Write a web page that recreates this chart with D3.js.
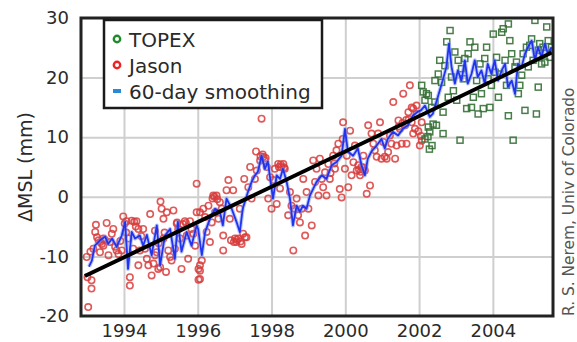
<!DOCTYPE html>
<html>
<head>
<meta charset="utf-8">
<script src="https://cdn.jsdelivr.net/npm/d3@7"></script>
<style>
  body { margin: 0; background: #fff; }
  svg { display: block; font-family: "DejaVu Sans", sans-serif; }
</style>
</head>
<body>
<svg id="chart" width="577" height="342"></svg>
<script>
// data: [year, mm]
const jasonPoints = [
  [1992.99, -10.1], [1993.03, -18.5], [1993.01, -13.5], [1993.12, -14.0], [1993.12, -15.4], [1993.22, -5.9],
  [1993.24, -4.7], [1993.17, -8.7], [1993.31, -7.3], [1993.35, -9.3], [1993.44, -7.0], [1993.44, -8.2],
  [1993.53, -4.4], [1993.58, -9.8], [1993.67, -6.2], [1993.71, -5.4], [1993.76, -8.4], [1993.80, -9.0],
  [1993.85, -9.6], [1993.94, -9.0], [1993.98, -3.3], [1994.07, -4.1], [1994.12, -7.0], [1994.16, -13.5],
  [1994.16, -14.9], [1994.21, -4.0], [1994.25, -8.7], [1994.34, -4.1], [1994.39, -5.4], [1994.39, -11.5],
  [1994.43, -9.0], [1994.52, -5.4], [1994.57, -8.7], [1994.62, -10.4], [1994.66, -11.5], [1994.71, -2.9],
  [1994.75, -13.2], [1994.80, -11.2], [1994.84, -5.7], [1994.84, -9.8], [1994.89, -9.3], [1994.93, -12.1],
  [1994.98, -11.8], [1994.99, -0.8], [1995.02, -2.0], [1995.07, -3.7], [1995.07, -7.0], [1995.14, -12.6],
  [1995.16, -2.6], [1995.20, -9.0], [1995.25, -10.1], [1995.29, -10.7], [1995.34, -2.3], [1995.38, -8.7],
  [1995.43, -4.5], [1995.47, -5.4], [1995.52, -7.0], [1995.56, -12.1], [1995.65, -4.1], [1995.70, -6.5],
  [1995.74, -10.4], [1995.79, -4.1], [1995.83, -5.4], [1995.93, -8.2], [1995.97, 2.2], [1995.97, -2.6],
  [1996.02, -12.1], [1996.02, -13.9],
  [1993.36, -7.6], [1993.40, -7.9], [1993.48, -7.2], [1993.62, -7.6], [1993.27, -6.8], [1993.09, -9.2],
  [1994.02, -4.5], [1994.28, -4.2], [1994.32, -5.0], [1994.47, -6.6], [1994.06, -6.0], [1993.90, -7.4],
  [1995.44, -4.3], [1995.60, -4.6], [1995.68, -4.4], [1995.88, -6.2], [1995.10, -6.0], [1994.94, -7.8],
  [1996.06, -2.6], [1996.06, -11.5], [1996.06, -12.4], [1996.06, -13.8], [1996.11, -10.7], [1996.15, -2.0],
  [1996.20, -3.4], [1996.24, -5.9], [1996.29, -1.5], [1996.33, -7.6], [1996.38, -4.3], [1996.42, 0.2],
  [1996.47, -2.6], [1996.51, 0.2], [1996.56, -3.7], [1996.60, -0.9], [1996.65, -2.0], [1996.69, -6.5],
  [1996.69, -9.0], [1996.78, 1.1], [1996.83, 2.8], [1996.87, -3.7], [1996.90, -7.3], [1996.96, 1.1],
  [1997.01, -7.0], [1997.05, -7.6], [1997.10, -7.0], [1997.14, -2.0], [1997.19, -7.9], [1997.23, -6.2],
  [1997.26, 3.0], [1997.28, -6.8], [1997.32, -6.8], [1997.37, 1.6], [1997.42, 5.0], [1997.46, -0.3],
  [1997.55, 3.0], [1997.58, 7.6], [1997.60, 4.4], [1997.69, 6.1], [1997.73, 13.1], [1997.78, 6.7],
  [1997.82, 6.1], [1997.87, 5.0], [1997.91, -0.3], [1997.96, 3.3], [1998.00, -2.0], [1998.05, 2.8],
  [1998.09, 4.7], [1998.14, -1.2], [1998.18, 5.5], [1998.23, 1.4], [1998.27, 5.0], [1998.32, 5.5],
  [1998.36, 4.7], [1998.45, -3.1], [1998.50, 0.8], [1998.54, -1.5], [1998.59, -9.0], [1998.63, -2.0],
  [1998.68, -0.3], [1998.72, -3.1], [1998.77, -4.3], [1998.82, -2.0], [1998.86, 3.0], [1998.91, -6.5],
  [1998.95, 0.8], [1999.00, -2.0],
  [1996.40, -0.3], [1996.45, 0.0], [1996.53, -0.4], [1996.98, -7.6], [1997.06, -7.2], [1997.16, -7.5],
  [1997.70, 6.8], [1997.76, 7.1], [1997.84, 6.5], [1998.20, 5.0], [1998.25, 5.4], [1998.34, 4.9],
  [1999.09, -4.8], [1999.13, 6.1], [1999.18, 2.5], [1999.22, 4.7], [1999.27, 0.2], [1999.31, 6.4],
  [1999.36, 3.0], [1999.40, 1.6], [1999.45, 4.1], [1999.49, 0.2], [1999.54, 5.5], [1999.58, 3.0],
  [1999.67, 6.9], [1999.72, 4.7], [1999.76, 7.8], [1999.81, 8.9], [1999.85, 1.3], [1999.90, -0.1],
  [1999.93, 9.7], [1999.94, 12.5], [1999.99, 4.7], [2000.04, 6.9], [2000.08, 1.6], [2000.13, 11.1],
  [2000.17, 3.6], [2000.22, 5.8], [2000.26, 8.6], [2000.31, 4.4], [2000.35, 5.3], [2000.40, 3.6],
  [2000.44, 5.0], [2000.49, 6.9], [2000.53, 4.4], [2000.58, 0.5], [2000.62, 12.0], [2000.67, 1.9],
  [2000.71, 10.6], [2000.76, 8.9], [2000.80, 7.8], [2000.85, 6.7], [2000.89, 10.6], [2000.94, 12.5],
  [2000.98, 6.4], [2001.03, 9.2], [2001.07, 6.7], [2001.12, 6.4], [2001.16, 7.5], [2001.21, 10.3],
  [2001.25, 8.9], [2001.30, 15.9], [2001.35, 6.4], [2001.39, 8.6], [2001.44, 12.8], [2001.48, 11.4],
  [2001.53, 8.9], [2001.57, 17.3], [2001.62, 12.0], [2001.66, 8.9], [2001.71, 14.2], [2001.75, 18.7],
  [2001.80, 12.5], [2001.84, 14.8], [2001.89, 11.4], [2001.93, 15.3], [2002.02, 8.6], [2002.07, 12.5],
  [2001.80, 15.0], [2001.84, 10.6], [2001.93, 13.9], [2001.98, 11.0], [2002.05, 10.2], [2002.07, 9.4],
  [2000.37, 4.6], [2000.42, 4.2], [2000.50, 4.9], [2001.45, 11.8], [2001.55, 12.4], [2001.65, 12.9],
  [2001.72, 13.0], [1999.60, 4.0], [1999.70, 5.6]
];

const topexPoints = [
  [2002.07, 18.7], [2002.11, 17.6], [2002.16, 16.2], [2002.20, 17.3], [2002.25, 17.0], [2002.29, 10.9],
  [2002.34, 15.0], [2002.38, 12.2], [2002.43, 15.9], [2002.43, 19.5], [2002.47, 12.0], [2002.52, 20.6],
  [2002.56, 22.9], [2002.61, 19.2], [2002.65, 14.2], [2002.65, 10.6], [2002.70, 22.0], [2002.75, 26.0],
  [2002.79, 16.7], [2002.84, 27.9], [2002.88, 20.1], [2002.93, 17.8], [2002.97, 24.3], [2003.02, 16.2],
  [2003.06, 22.9], [2003.11, 9.5], [2003.15, 21.5], [2003.20, 19.8], [2003.24, 23.2], [2003.29, 14.8],
  [2003.33, 24.0], [2003.38, 26.0], [2003.42, 15.0], [2003.47, 16.7], [2003.51, 25.1], [2003.56, 19.5],
  [2003.60, 13.9], [2003.65, 22.3], [2003.69, 17.3], [2003.74, 14.8], [2003.78, 23.2], [2003.83, 25.1],
  [2003.87, 19.8], [2003.92, 15.0], [2003.96, 18.7], [2004.01, 27.3], [2004.06, 20.9], [2004.10, 23.4],
  [2004.15, 16.7], [2004.19, 20.6], [2004.24, 27.6], [2004.28, 28.2], [2004.33, 22.9], [2004.37, 18.7],
  [2004.42, 13.6], [2004.42, 29.0], [2004.46, 26.2], [2004.51, 24.0], [2004.55, 9.5], [2004.60, 21.8],
  [2004.64, 22.6], [2004.69, 17.3], [2004.73, 18.7], [2004.78, 20.4], [2004.82, 24.0], [2004.87, 14.5],
  [2004.91, 25.1], [2004.96, 21.8], [2005.00, 25.4], [2005.05, 26.5], [2005.09, 22.9], [2005.14, 29.6],
  [2005.18, 13.9], [2005.23, 24.6], [2005.23, 18.4], [2005.27, 25.7], [2005.32, 22.3], [2005.36, 25.1],
  [2005.41, 22.6], [2005.46, 28.5], [2005.50, 26.2], [2005.55, 23.4], [2005.59, 25.1], [2002.28, 8.0],
  [2002.16, 9.7], [2002.25, 11.7], [2002.35, 8.6], [2002.24, 10.1]
];

const smoothing = [
  [1993.05, -11.7], [1993.13, -10.7], [1993.21, -8.2], [1993.35, -7.3], [1993.49, -6.7], [1993.57, -7.9],
  [1993.68, -7.0], [1993.80, -8.4], [1993.94, -6.5], [1994.03, -4.2], [1994.11, -12.1], [1994.21, -5.9],
  [1994.30, -7.0], [1994.43, -6.5], [1994.52, -8.2], [1994.62, -6.4], [1994.75, -9.8], [1994.89, -4.8],
  [1994.98, -11.5], [1995.11, -6.5], [1995.25, -5.4], [1995.38, -10.4], [1995.46, -4.2], [1995.56, -9.2],
  [1995.70, -5.9], [1995.83, -8.2], [1995.97, -4.8], [1996.01, -5.4], [1996.11, -9.8], [1996.20, -5.9],
  [1996.33, -3.7], [1996.47, -2.0], [1996.60, -2.5], [1996.68, -4.8], [1996.78, -0.3], [1996.92, -2.0],
  [1997.05, -4.2], [1997.14, -5.9], [1997.22, -2.0], [1997.36, 0.8], [1997.46, 2.5], [1997.55, 3.6],
  [1997.63, 4.2], [1997.73, 6.9], [1997.82, 4.7], [1997.90, 5.9], [1998.04, -0.3], [1998.14, 3.6],
  [1998.23, 3.0], [1998.31, 4.7], [1998.41, 2.5], [1998.50, -0.3], [1998.58, -4.8], [1998.68, -1.5],
  [1998.77, -2.5], [1998.85, -1.5], [1998.95, -2.0], [1999.04, 0.2], [1999.22, 2.5], [1999.36, 3.6],
  [1999.49, 3.0], [1999.63, 5.3], [1999.77, 5.9], [1999.90, 6.9], [1999.99, 11.4], [2000.07, 7.6],
  [2000.21, 6.9], [2000.34, 8.1], [2000.44, 5.3], [2000.53, 3.6], [2000.61, 6.4], [2000.71, 7.6],
  [2000.85, 8.6], [2000.98, 9.7], [2001.07, 8.1], [2001.15, 9.7], [2001.29, 10.9], [2001.43, 10.3],
  [2001.56, 11.4], [2001.70, 12.0], [2001.83, 13.6], [2001.97, 14.3], [2002.05, 14.5], [2002.16, 15.3],
  [2002.29, 13.4], [2002.37, 13.9], [2002.51, 16.8], [2002.64, 19.5], [2002.74, 21.8], [2002.81, 25.7],
  [2002.88, 21.8], [2002.97, 19.0], [2003.05, 21.2], [2003.15, 19.5], [2003.24, 22.9], [2003.32, 19.0],
  [2003.42, 20.6], [2003.51, 22.9], [2003.59, 20.1], [2003.69, 21.2], [2003.78, 19.0], [2003.86, 22.3],
  [2003.96, 20.6], [2004.05, 22.9], [2004.14, 19.5], [2004.24, 21.2], [2004.33, 22.3], [2004.41, 18.4],
  [2004.51, 19.5], [2004.60, 17.3], [2004.68, 22.3], [2004.78, 21.8], [2004.87, 24.0], [2004.95, 25.1],
  [2005.05, 26.2], [2005.14, 22.9], [2005.22, 25.1], [2005.32, 23.4], [2005.41, 25.7], [2005.49, 24.0],
  [2005.59, 25.1]
];

const trend = [[1992.94, -13.3], [2005.60, 24.2]];

const xTicks = [1994, 1996, 1998, 2000, 2002, 2004];
const yTicks = [-20, -10, 0, 10, 20, 30];
const legendItems = [
  { label: 'TOPEX', kind: 'ring', color: '#1f8a2a' },
  { label: 'Jason', kind: 'ring', color: '#ee2222' },
  { label: '60-day smoothing', kind: 'dash', color: '#2a8ad8' }
];

const svg = d3.select('#chart');
const plot = { left: 81, top: 18, right: 553, bottom: 316 };

const x = d3.scaleLinear().domain([1992.835, 2005.63]).range([plot.left, plot.right]);
const y = d3.scaleLinear().domain([-20, 30]).range([plot.bottom, plot.top]);

svg.append('clipPath').attr('id', 'clip')
  .append('rect')
  .attr('x', plot.left).attr('y', plot.top)
  .attr('width', plot.right - plot.left).attr('height', plot.bottom - plot.top);

// grid
const xGrid = d3.axisBottom(x).tickValues(xTicks).tickSize(-(plot.bottom - plot.top)).tickFormat('');
const yGrid = d3.axisLeft(y).tickValues(yTicks.slice(1, -1)).tickSize(-(plot.right - plot.left)).tickFormat('');

svg.append('g').attr('transform', `translate(0,${plot.bottom})`).call(xGrid)
  .call(g => g.select('.domain').remove())
  .selectAll('.tick line').attr('stroke', '#cfcfcf').attr('stroke-width', 2);
svg.append('g').attr('transform', `translate(${plot.left},0)`).call(yGrid)
  .call(g => g.select('.domain').remove())
  .selectAll('.tick line').attr('stroke', '#cfcfcf').attr('stroke-width', 2);

// tick labels (plain hyphen for negatives, as in the original)
const xAxis = d3.axisBottom(x).tickValues(xTicks).tickSize(0).tickPadding(8).tickFormat(d => String(d));
svg.append('g').attr('transform', `translate(0,${plot.bottom})`).call(xAxis)
  .call(g => g.select('.domain').remove())
  .selectAll('text').attr('fill', '#2a2a2a').style('font-size', '18px').style('font-family', '"DejaVu Sans", sans-serif');

const yAxis = d3.axisLeft(y).tickValues(yTicks).tickSize(0).tickPadding(12).tickFormat(d => String(d));
svg.append('g').attr('transform', `translate(${plot.left},0)`).call(yAxis)
  .call(g => g.select('.domain').remove())
  .selectAll('text').attr('fill', '#2a2a2a').style('font-size', '18px').style('font-family', '"DejaVu Sans", sans-serif');

const marks = svg.append('g').attr('clip-path', 'url(#clip)');

// Jason rings
marks.append('g').selectAll('circle')
  .data(jasonPoints)
  .enter()
  .append('circle')
  .attr('cx', d => x(d[0]))
  .attr('cy', d => y(d[1]))
  .attr('r', 3.2)
  .attr('fill', 'none')
  .attr('stroke', '#d83c3c')
  .attr('stroke-opacity', 0.85)
  .attr('stroke-width', 1.6);

// TOPEX squares
marks.append('g').selectAll('rect')
  .data(topexPoints)
  .enter()
  .append('rect')
  .attr('x', d => x(d[0]) - 3)
  .attr('y', d => y(d[1]) - 3)
  .attr('width', 6)
  .attr('height', 6)
  .attr('fill', 'none')
  .attr('stroke', '#356f35')
  .attr('stroke-opacity', 0.9)
  .attr('stroke-width', 1.5);

// smoothing line
const line = d3.line().x(d => x(d[0])).y(d => y(d[1]));
marks.append('path').datum(smoothing)
  .attr('d', line).attr('fill', 'none')
  .attr('stroke', '#6f8cff').attr('stroke-opacity', 0.5).attr('stroke-width', 4)
  .attr('stroke-linejoin', 'round');
marks.append('path').datum(smoothing)
  .attr('d', line).attr('fill', 'none')
  .attr('stroke', '#2233ee').attr('stroke-width', 1.8)
  .attr('stroke-linejoin', 'round');

// trend
marks.append('path').datum(trend)
  .attr('d', line).attr('fill', 'none')
  .attr('stroke', '#000').attr('stroke-width', 4);

// frame
svg.append('rect')
  .attr('x', plot.left).attr('y', plot.top)
  .attr('width', plot.right - plot.left).attr('height', plot.bottom - plot.top)
  .attr('fill', 'none').attr('stroke', '#222').attr('stroke-width', 3);

// legend
const legend = svg.append('g');
legend.append('rect')
  .attr('x', 104).attr('y', 20).attr('width', 218).attr('height', 88)
  .attr('fill', '#fff').attr('stroke', '#1a1a1a').attr('stroke-width', 2.5);

const rows = legend.selectAll('g.row')
  .data(legendItems)
  .enter()
  .append('g')
  .attr('class', 'row')
  .attr('transform', (d, i) => `translate(117,${39 + i * 26})`);

rows.filter(d => d.kind === 'ring').append('circle')
  .attr('r', 3.2).attr('fill', 'none')
  .attr('stroke', d => d.color).attr('stroke-width', 2.4);
rows.filter(d => d.kind === 'dash').append('rect')
  .attr('x', -4).attr('y', -2).attr('width', 8).attr('height', 4)
  .attr('fill', d => d.color);

rows.append('text')
  .attr('x', 12).attr('y', 8)
  .attr('fill', '#2a2a2a')
  .style('font-size', '20px')
  .text(d => d.label);

// axis title
svg.append('text')
  .attr('transform', `translate(32,${(plot.top + plot.bottom) / 2}) rotate(-90)`)
  .attr('text-anchor', 'middle')
  .attr('fill', '#2a2a2a')
  .style('font-size', '19px')
  .text('ΔMSL (mm)');

// credit
svg.append('text')
  .attr('transform', `translate(574,${plot.bottom}) rotate(-90)`)
  .attr('text-anchor', 'start')
  .attr('fill', '#555')
  .style('font-size', '15.4px')
  .text('R. S. Nerem, Univ of Colorado');
</script>
</body>
</html>
